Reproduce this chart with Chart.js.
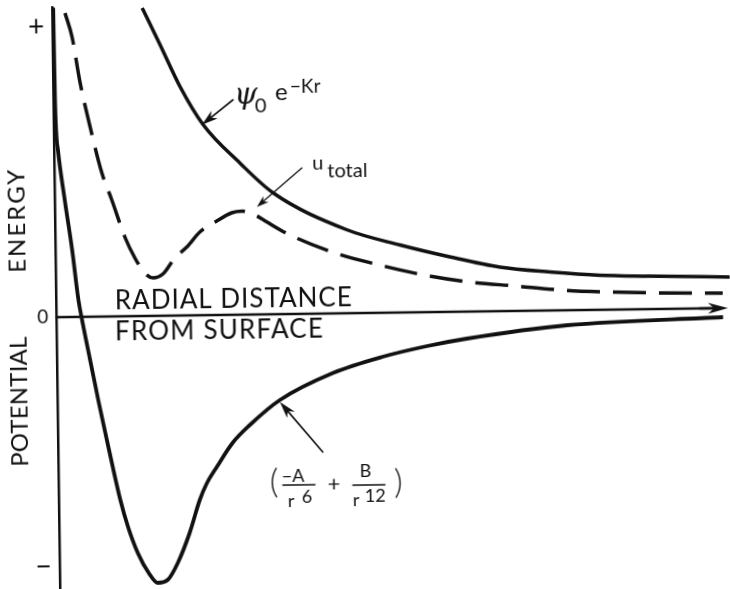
<!DOCTYPE html>
<html>
<head>
<meta charset="utf-8">
<script src="https://cdn.jsdelivr.net/npm/chart.js@4.4.1/dist/chart.umd.min.js"></script>
<style>
  html, body { margin: 0; padding: 0; background: #fff; overflow: hidden; }
  #wrap { width: 730px; height: 589px; overflow: hidden; background: #fff; }
  #chart { display: block; transform: rotate(-0.78deg); transform-origin: 365px 294.5px; }
</style>
</head>
<body>
<div id="wrap"><canvas id="chart" width="730" height="589"></canvas></div>
<script>
// radial distance from surface (arbitrary units) and potential energy of each curve
const psiR = [1.61, 1.92, 2.27, 2.67, 3.32, 3.90, 5.21, 6.16, 7.04, 7.94, 8.83, 9.72, 10.6, 12.04];
const psiE = [6.16, 5.42, 4.57, 3.81, 3.03, 2.43, 1.67, 1.35, 1.10, 0.88, 0.77, 0.69, 0.66, 0.62];

const totalR = [0.23, 0.35, 0.48, 0.65, 0.85, 1.02, 1.25, 1.42, 1.59, 1.74, 1.92, 2.13, 2.35, 2.59, 2.86,
                3.16, 3.34, 3.57, 3.75, 4.16, 4.94, 5.70, 6.51, 7.40, 8.20, 9.09, 9.98, 10.79, 11.91];
const totalE = [6.08, 5.60, 4.70, 3.80, 2.87, 2.33, 1.57, 1.16, 0.86, 0.76, 0.84, 1.15, 1.37, 1.67, 1.86,
                2.04, 2.07, 1.99, 1.87, 1.60, 1.23, 0.98, 0.76, 0.59, 0.50, 0.40, 0.35, 0.32, 0.30];

const ljR = [0.02, 0.03, 0.07, 0.18, 0.30, 0.40, 0.45, 0.56, 0.73, 0.91, 1.10, 1.23, 1.40, 1.59, 1.75,
             1.93, 2.11, 2.33, 2.52, 2.65, 2.83, 3.12, 3.43, 3.97, 4.93, 5.82, 6.61, 7.33, 9.12, 11.91];
const ljE = [6.19, 4.35, 3.35, 2.34, 1.34, 0.34, 0.00, -0.66, -1.67, -2.67, -3.67, -4.21, -4.74, -5.14, -5.34,
             -5.28, -4.95, -4.35, -3.69, -3.36, -3.04, -2.56, -2.21, -1.72, -1.19, -0.88, -0.68, -0.54, -0.30, -0.18];

// energy axis marks
const yTicks = [-4.99, 0, 5.81];
const yTickLabels = ['\u2212', '0', '+'];

const ink = '#111';
const sans = "Lato, 'Liberation Sans', sans-serif";

function pts(rs, es) {
    return rs.map((r, i) => ({ x: r, y: es[i] }));
}

// line with a barbed, filled head at (x2, y2)
function arrow(ctx, x1, y1, x2, y2, len, half, lw) {
    const a = Math.atan2(y2 - y1, x2 - x1);
    const c = Math.cos(a), s = Math.sin(a);
    ctx.lineWidth = lw;
    ctx.beginPath();
    ctx.moveTo(x1, y1);
    ctx.lineTo(x2 - c * len * 0.6, y2 - s * len * 0.6);
    ctx.stroke();
    ctx.beginPath();
    ctx.moveTo(x2, y2);
    ctx.lineTo(x2 - c * len + s * half, y2 - s * len - c * half);
    ctx.lineTo(x2 - c * len * 0.7, y2 - s * len * 0.7);
    ctx.lineTo(x2 - c * len - s * half, y2 - s * len + c * half);
    ctx.closePath();
    ctx.fill();
}

// spread the letters so the text fills the given width
function spacedText(ctx, text, x, y, width, align) {
    ctx.letterSpacing = '0px';
    const w = ctx.measureText(text).width;
    const sp = text.length > 1 ? (width - w) / (text.length - 1) : 0;
    ctx.letterSpacing = sp.toFixed(2) + 'px';
    ctx.textAlign = 'left';
    ctx.fillText(text, align === 'center' ? x - width / 2 : x, y);
    ctx.letterSpacing = '0px';
}

const sketchLabels = {
    id: 'sketchLabels',
    afterDraw(chart) {
        const { ctx, chartArea, scales: { x, y } } = chart;
        const X = v => x.getPixelForValue(v);
        const Y = v => y.getPixelForValue(v);
        ctx.save();
        ctx.fillStyle = ink;
        ctx.strokeStyle = ink;
        ctx.lineCap = 'round';

        // radial distance axis with arrow
        const y0 = Y(0);
        ctx.lineWidth = 2.5;
        ctx.beginPath();
        ctx.moveTo(chartArea.left, y0);
        ctx.lineTo(X(11.7), y0);
        ctx.stroke();
        arrow(ctx, X(11.5), y0, X(12.0), y0, 20, 5.5, 2.5);

        // axis captions
        ctx.textBaseline = 'alphabetic';
        ctx.font = '400 26px ' + sans;
        spacedText(ctx, 'RADIAL DISTANCE', X(1.05), Y(0.144), 237);
        spacedText(ctx, 'FROM SURFACE', X(1.045), Y(-0.47), 208);

        ctx.save();
        ctx.font = '400 24px ' + sans;
        ctx.textBaseline = 'middle';
        ctx.translate(X(-0.68), Y(1.93));
        ctx.rotate(-Math.PI / 2);
        spacedText(ctx, 'ENERGY', 0, 0, 103, 'center');
        ctx.restore();
        ctx.save();
        ctx.font = '400 24px ' + sans;
        ctx.textBaseline = 'middle';
        ctx.translate(X(-0.68), Y(-1.68));
        ctx.rotate(-Math.PI / 2);
        spacedText(ctx, 'POTENTIAL', 0, 0, 130, 'center');
        ctx.restore();

        // psi0 e^-Kr
        ctx.textAlign = 'center';
        ctx.textBaseline = 'middle';
        ctx.font = "italic 30px 'DejaVu Serif', serif";
        ctx.fillText('\u03c8', X(3.44), Y(4.37));
        ctx.textAlign = 'left';
        ctx.textBaseline = 'alphabetic';
        ctx.font = '400 20px ' + sans;
        ctx.fillText('0', X(3.60), Y(4.048));
        ctx.font = '400 24px ' + sans;
        ctx.fillText('e', X(3.96), Y(4.284));
        ctx.font = '400 19px ' + sans;
        ctx.fillText('\u2212Kr', X(4.23), Y(4.42));
        arrow(ctx, X(3.21), Y(4.30), X(2.65), Y(3.81), 16, 5, 1.6);

        // u total
        ctx.font = '400 20px ' + sans;
        ctx.fillText('u', X(4.61), Y(2.886));
        ctx.fillText('total', X(4.877), Y(2.726));
        arrow(ctx, X(4.425), Y(2.918), X(3.61), Y(2.15), 12, 4, 1.3);

        // (-A/r6 + B/r12)
        ctx.textAlign = 'center';
        ctx.textBaseline = 'middle';
        ctx.font = '300 33px ' + sans;
        ctx.fillText('(', X(3.85), Y(-3.364));
        ctx.fillText(')', X(6.07), Y(-3.40));
        ctx.font = '400 22px ' + sans;
        ctx.fillText('+', X(4.918), Y(-3.412));
        ctx.textAlign = 'left';
        ctx.textBaseline = 'alphabetic';
        ctx.font = '400 18px ' + sans;
        ctx.fillText('\u2212A', X(3.989), Y(-3.354));
        ctx.fillText('B', X(5.382), Y(-3.274));
        ctx.fillText('r', X(4.09), Y(-3.854));
        ctx.fillText('r', X(5.25), Y(-3.854));
        ctx.fillText('6', X(4.343), Y(-3.784));
        ctx.fillText('12', X(5.468), Y(-3.784));
        ctx.lineWidth = 1.5;
        ctx.beginPath();
        ctx.moveTo(X(4.007), Y(-3.42));
        ctx.lineTo(X(4.579), Y(-3.42));
        ctx.moveTo(X(5.257), Y(-3.44));
        ctx.lineTo(X(5.829), Y(-3.44));
        ctx.stroke();
        arrow(ctx, X(4.729), Y(-2.768), X(3.973), Y(-1.756), 17, 5, 1.6);

        ctx.restore();
    }
};

const ctx = document.getElementById('chart').getContext('2d');
const chart = new Chart(ctx, {
    type: 'scatter',
    data: {
        datasets: [
            {
                label: 'psi0 e^-Kr',
                data: pts(psiR, psiE),
                showLine: true,
                borderColor: ink,
                borderWidth: 3.5,
                pointRadius: 0,
                cubicInterpolationMode: 'monotone',
                clip: false
            },
            {
                label: 'u total',
                data: pts(totalR, totalE),
                showLine: true,
                borderColor: ink,
                borderWidth: 3.5,
                borderDash: [33, 13],
                pointRadius: 0,
                cubicInterpolationMode: 'monotone',
                clip: false
            },
            {
                label: '-A/r6 + B/r12',
                data: pts(ljR, ljE),
                showLine: true,
                borderColor: ink,
                borderWidth: 3.8,
                pointRadius: 0,
                cubicInterpolationMode: 'monotone',
                clip: false
            }
        ]
    },
    options: {
        responsive: false,
        animation: false,
        events: [],
        layout: { padding: { top: 3, right: 0, bottom: 0, left: 0 } },
        plugins: {
            legend: { display: false },
            tooltip: { enabled: false }
        },
        scales: {
            x: { type: 'linear', display: false, min: 0, max: 12.04 },
            y: {
                type: 'linear',
                min: -5.52,
                max: 6.2,
                grid: { display: false, drawTicks: false },
                border: { display: true, color: ink, width: 2.5 },
                afterBuildTicks: s => { s.ticks = yTicks.map(v => ({ value: v })); },
                afterFit: s => { s.width = 56; s.paddingTop = 0; s.paddingBottom = 0; },
                ticks: {
                    padding: 8,
                    color: ink,
                    autoSkip: false,
                    font: c => ({ family: sans, size: c.index === 1 ? 19 : 28, weight: 400 }),
                    callback: (v, i) => yTickLabels[i]
                }
            }
        }
    },
    plugins: [sketchLabels]
});
</script>
</body>
</html>
